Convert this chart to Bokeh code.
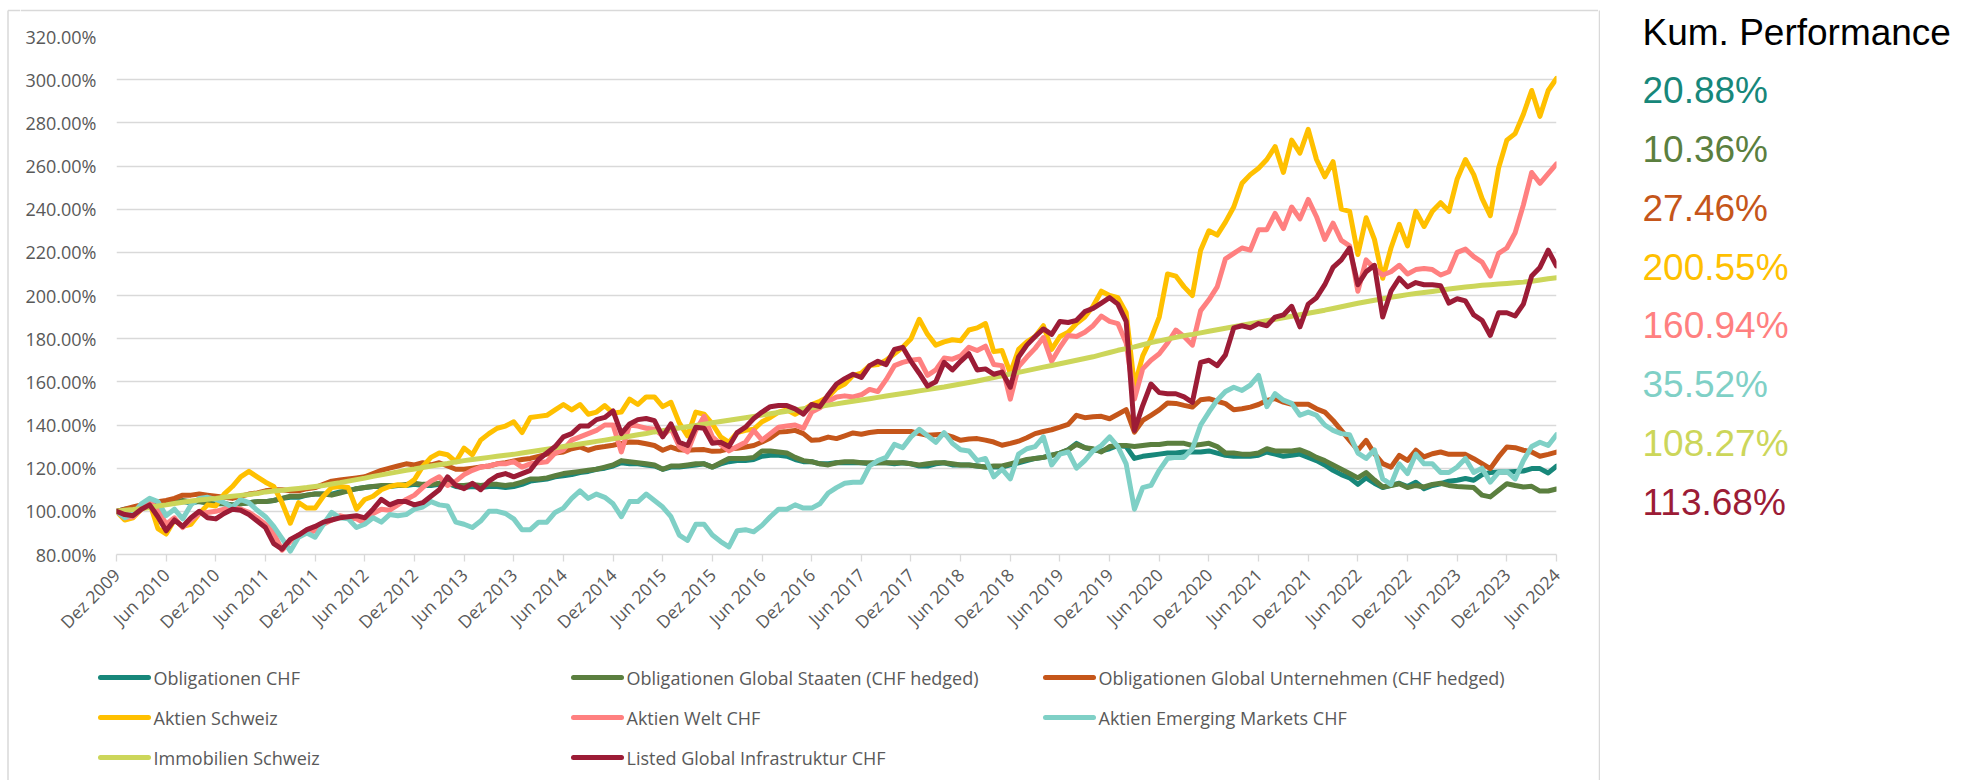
import math
from bokeh.plotting import figure
from bokeh.models import FixedTicker, PrintfTickFormatter, Range1d
from bokeh.layouts import row, column
from bokeh.core.properties import value
from bokeh.embed import file_html
from bokeh.resources import INLINE

# ---------------- data (monthly, Dez 2009 .. Jun 2024, indexed 100 = start) ----------------
tick_labels = ["Dez 2009", "Jun 2010", "Dez 2010", "Jun 2011", "Dez 2011", "Jun 2012",
               "Dez 2012", "Jun 2013", "Dez 2013", "Jun 2014", "Dez 2014", "Jun 2015",
               "Dez 2015", "Jun 2016", "Dez 2016", "Jun 2017", "Dez 2017", "Jun 2018",
               "Dez 2018", "Jun 2019", "Dez 2019", "Jun 2020", "Dez 2020", "Jun 2021",
               "Dez 2021", "Jun 2022", "Dez 2022", "Jun 2023", "Dez 2023", "Jun 2024"]

series_names = ["Obligationen CHF",
                "Obligationen Global Staaten (CHF hedged)",
                "Obligationen Global Unternehmen (CHF hedged)",
                "Aktien Schweiz",
                "Aktien Welt CHF",
                "Aktien Emerging Markets CHF",
                "Immobilien Schweiz",
                "Listed Global Infrastruktur CHF"]

kum_performance = [20.88, 10.36, 27.46, 200.55, 160.94, 35.52, 108.27, 113.68]

obligationen_chf = [100,
 101, 101.5, 102, 102.5, 103, 104, 104, 104.5, 104, 104.5, 104, 103.5,
 103.5, 103, 103.5, 104, 104.5, 104.5, 105, 106, 106.5, 106.5, 107.5, 108,
 108, 108, 109, 109.5, 110.5, 111, 111.5, 111.5, 111.5, 112, 112, 112.5,
 112, 112, 112.5, 113, 111.5, 111, 111.5, 111, 111.5, 111.5, 111, 111.5,
 112.5, 114, 114.5, 115, 116, 116.5, 117, 118, 118.5, 119.5, 120, 121,
 122.5, 122, 122, 121.5, 121, 119.5, 120.5, 120.5, 121, 121.5, 122, 120.5,
 122, 123, 123.5, 123.5, 124, 125.5, 126, 126, 125.5, 124, 123, 123,
 122, 122, 122.5, 122.5, 122.5, 122.5, 122, 122.5, 122.5, 122, 122.5, 122,
 121, 121, 122, 122.5, 121.5, 121.5, 121.5, 121, 120.5, 120.5, 120.5, 121.5,
 122.5, 123.5, 124.5, 125, 126, 127, 128.5, 131.5, 129.5, 128.5, 128, 129,
 130.5, 130, 124.5, 125.5, 126, 126.5, 127, 127, 127.5, 127.5, 127.5, 128,
 127, 126, 125.5, 125.5, 125.5, 126, 127.5, 126.5, 125.5, 126, 126.5, 125,
 123.5, 121.5, 119, 117, 115.5, 112.5, 115.5, 113, 111, 112, 113, 111.5,
 113.5, 110.5, 112, 112.8, 114, 114.4, 115.2, 114.4, 117, 118, 118.2, 118.2,
 118.5, 118.7, 119.8, 119.8, 117.8, 120.88]

obligationen_staaten = [100,
 100.5, 101, 101.5, 102.5, 103, 104, 104.5, 105, 104.5, 104.5, 104, 104,
 103.5, 103, 103.5, 104, 104.5, 104.5, 105, 106, 107, 107, 107.5, 108,
 108, 107.5, 108.5, 109.5, 110.5, 111, 111.5, 112, 112, 112, 112.5, 113,
 112.5, 112.5, 113, 113.5, 112, 112, 112.5, 112, 112.5, 112.5, 112, 112.5,
 113.5, 115, 115, 115.5, 116.5, 117.5, 118, 118.5, 119, 119.5, 120.5, 121.5,
 123.5, 123, 122.5, 122, 121.5, 119.5, 121, 121, 121.5, 122, 122, 120.5,
 122.5, 124.5, 124.5, 124.5, 125, 128, 128, 127.5, 127, 125, 123.5, 123,
 122, 121.5, 122.5, 123, 123, 122.5, 122.5, 122.5, 122.5, 122.5, 122.5, 122,
 121.5, 122, 122.5, 122.5, 122, 121.5, 121.5, 121, 120.5, 121, 121, 122,
 123, 124, 124.5, 125, 126, 127, 128.5, 131, 129.5, 129, 127.5, 130,
 130.5, 130.5, 130, 130.5, 131, 131, 131.5, 131.5, 131.5, 130.5, 131, 131.5,
 130, 127, 127, 126.5, 126.5, 127, 129, 128, 128, 128, 128.5, 127,
 125, 123.5, 121.5, 119.5, 117.5, 115.5, 118, 114.5, 111.3, 112, 112.8, 111,
 112, 111.3, 112.5, 113, 112, 111.5, 111.3, 111, 107.5, 106.7, 109.8, 112.8,
 112, 111.3, 111.6, 109.4, 109.4, 110.36]

obligationen_unternehmen = [100,
 101, 102, 103, 104, 104.5, 105, 106, 107.5, 107.5, 108, 107.5, 107,
 106.5, 106, 107, 108, 108.5, 109.5, 110, 110, 109.5, 109.5, 110.5, 111,
 112.5, 114, 114.5, 115, 115.5, 116, 117.5, 119, 120, 121, 122, 121.5,
 122.5, 121.5, 122.5, 121, 119.5, 119.5, 120, 120.5, 121, 122, 122.5, 123.3,
 124, 124.5, 125.5, 126.5, 127, 127.5, 129, 129.8, 128.3, 129.5, 130, 130.6,
 131.5, 132.1, 132, 131.3, 130.5, 128.3, 129.8, 128.5, 128.3, 128.5, 128.6, 127.8,
 128, 129, 129.2, 129.8, 130.5, 132.1, 134, 136.7, 137, 137.5, 136, 132.9,
 133.2, 134.4, 133.7, 135, 136.3, 135.7, 136.5, 137, 137, 137, 137, 137,
 136, 135.2, 135.5, 135.7, 134.5, 132.9, 133.5, 133.7, 133, 132.1, 130.6, 131.5,
 132.5, 134.1, 136, 137, 137.8, 139, 140.3, 144.5, 143.4, 143.8, 144, 142.9,
 145, 147.1, 136.7, 142.1, 144.5, 147, 150.2, 150, 149.1, 148.3, 151.7, 152.2,
 151, 149.9, 147.1, 147.5, 148.3, 149.5, 151.4, 152.2, 150.6, 149.6, 149.6, 149.6,
 147.5, 146, 142.1, 137.5, 132.9, 128.3, 132.9, 126.7, 122.1, 120.5, 125.9, 123.6,
 128.3, 125.2, 126.7, 127.5, 126.4, 126.4, 126.4, 124.4, 122.1, 119.8, 125.2, 129.8,
 129.5, 128.3, 127.5, 125.5, 126.4, 127.46]

aktien_schweiz = [100,
 96, 97, 101, 104, 92, 89.5, 96, 93, 94, 99, 103, 102.5,
 108, 111.5, 116, 118.5, 116, 113.5, 111.5, 104, 94.5, 104, 101.5, 101.5,
 107, 111, 111.5, 111, 101, 105.5, 107, 110, 111.5, 112.3, 112, 114.7,
 120.8, 125, 127, 126.2, 123, 129.3, 126.2, 133, 136, 138.5, 139.5, 141.5,
 136.5, 143.5, 144, 144.5, 147, 149.5, 147, 149.5, 145, 146, 149, 145.5,
 146, 152, 149.5, 153, 153, 148.5, 150.5, 141, 135, 146, 145, 140.5,
 134.5, 132, 136.5, 137.5, 138, 141.5, 143.5, 146, 147, 145, 147, 149.5,
 151, 153, 157, 159, 163, 164, 167.5, 168, 170, 173, 176, 180,
 189, 182, 177, 178.5, 179.5, 179, 184, 185, 187, 174, 174.5, 164,
 175, 178.5, 181, 186, 175, 181, 183, 187, 190, 195, 202, 200,
 199, 192, 158, 172, 180, 190, 210, 209, 204, 200, 221, 230,
 228, 234, 241, 252, 256, 259, 263, 269, 257, 272, 266, 277,
 263, 255, 262, 240, 239, 219, 236, 226, 208, 222, 233, 223,
 239, 232, 239, 243, 239, 254, 263, 256, 245, 237, 259, 272,
 275, 284, 295, 283, 295, 300.55]

aktien_welt = [100,
 97, 97.5, 101, 104.5, 101, 94, 97, 92.5, 96, 99, 99.5, 100,
 101, 102, 101, 99.5, 97, 94, 90, 82, 86, 89, 90, 91,
 94, 96, 98, 97, 96.5, 94.5, 99, 101, 100.5, 103, 105.5, 107.5,
 111, 114, 116, 112, 114, 117, 119, 120.5, 121, 122, 122, 123,
 120.5, 122, 122.5, 123, 127, 128.5, 133, 134.5, 136, 137.5, 140, 140,
 127.5, 140, 139.5, 138.5, 138, 135, 138.5, 130, 127.5, 137.5, 144, 134.5,
 131, 128, 130, 132, 137.5, 133, 136, 139, 139.5, 140, 138.5, 146,
 148, 151, 153, 153.5, 153, 154, 156.5, 155.5, 161, 167.5, 169, 170,
 170.5, 163, 165.5, 171, 170.5, 172, 176, 174.5, 176.5, 168, 167.5, 152,
 167, 171.5, 175.5, 180.5, 169.5, 176, 181.5, 181, 183, 186, 190.5, 188,
 187, 178, 152, 166, 170, 173, 178, 184, 181, 177, 193, 198,
 204, 217, 219.5, 222, 221, 230.5, 230.5, 238, 231, 241, 235.5, 244.5,
 236.5, 226, 233.5, 225.5, 223, 202, 216.5, 212.5, 209.5, 211, 214, 210,
 212, 212.5, 212, 209.5, 211, 220, 221.5, 218, 215.5, 209, 219.5, 222,
 229, 242, 257, 252, 256.5, 260.94]

aktien_em = [100,
 97, 99, 103.5, 106, 104.5, 98, 101, 96.5, 103, 106, 106.5, 105.5,
 104, 102, 105.5, 104, 100.5, 97.5, 93, 87.5, 81.5, 88, 90, 88,
 94, 99.5, 97, 96.5, 92.5, 94, 97, 95, 98.5, 98, 98.5, 101,
 102, 104.5, 103, 102.5, 95, 94, 92.5, 95.5, 100, 100, 99, 96.5,
 91.5, 91.5, 95, 95, 99.5, 101.5, 106, 109.5, 106, 108, 106.5, 103.5,
 97.5, 104.5, 104.5, 108, 105, 102, 97.5, 89, 86.5, 94, 94, 89,
 86, 83.5, 91, 91.5, 90.5, 93.5, 97.5, 101, 101, 103, 101.5, 101.5,
 103.5, 108.5, 111, 113, 113.5, 113.5, 121, 123.5, 125, 131, 129.5, 134.5,
 138, 135, 132, 136.5, 131.5, 128.5, 128, 123.5, 124.5, 116, 119.5, 115,
 126.5, 129, 130, 134.5, 121.5, 126.5, 127.5, 120, 123.5, 128, 130.5, 134.5,
 130, 122, 101, 111, 112, 119, 124.5, 125, 125, 129, 140, 146,
 151.5, 155.5, 157.5, 156, 158.5, 163, 148.5, 154.5, 151.5, 150, 144.5, 146,
 144.5, 140, 137.5, 136, 135.5, 127, 124.5, 128.5, 115, 112.5, 122, 117.5,
 126.5, 122, 122, 118, 118, 120.5, 124.5, 118, 120, 113.5, 118, 118.5,
 115, 123.5, 130, 132, 130.5, 135.52]

immobilien = [100,
 100.5, 100.8, 101.2, 101.8, 102.5, 103.0, 103.6, 104.2, 104.8, 105.2, 105.6, 106.0,
 106.5, 107.0, 107.4, 107.8, 108.3, 109.0, 109.4, 109.8, 110.2, 110.6, 111.0, 111.5,
 112.0, 112.7, 113.3, 114.0, 114.7, 115.4, 116.2, 116.9, 117.6, 118.3, 119.0, 119.6,
 120.3, 121.0, 121.6, 122.2, 122.9, 123.5, 124.0, 124.5, 125.0, 125.5, 126.0, 126.4,
 127.0, 127.6, 128.2, 128.8, 129.4, 130.0, 130.6, 131.2, 131.8, 132.4, 133.0, 133.6,
 134.2, 134.8, 135.5, 136.1, 136.8, 137.4, 138.0, 138.6, 139.2, 139.8, 140.4, 141.0,
 141.6, 142.2, 142.8, 143.4, 144.0, 144.6, 145.2, 145.8, 146.4, 147.0, 147.5, 148.0,
 148.6, 149.2, 149.8, 150.4, 151.0, 151.6, 152.2, 152.8, 153.4, 154.0, 154.6, 155.2,
 155.8, 156.4, 157.0, 157.6, 158.3, 159.0, 159.7, 160.4, 161.2, 162.0, 162.8, 163.6,
 164.4, 165.2, 166.0, 166.8, 167.6, 168.4, 169.2, 170.0, 170.8, 171.6, 172.6, 173.6,
 174.6, 175.4, 176.2, 177.2, 178.2, 179.0, 179.8, 180.6, 181.4, 182.0, 182.7, 183.4,
 184.1, 184.8, 185.5, 186.2, 186.9, 187.6, 188.3, 189.0, 189.7, 190.4, 191.1, 191.8,
 192.5, 193.2, 194.0, 194.8, 195.6, 196.4, 197.1, 197.8, 198.5, 199.2, 199.8, 200.4,
 200.9, 201.4, 201.9, 202.4, 203.0, 203.5, 203.9, 204.3, 204.7, 205.0, 205.3, 205.6,
 205.9, 206.2, 206.6, 207.2, 207.8, 208.27]

infrastruktur = [100,
 98.5, 98, 101, 103, 97.5, 91, 96, 93, 97, 100, 97, 96.5,
 99, 101, 100.5, 98.5, 95.5, 92.5, 85, 82.5, 87, 89, 91.5, 93,
 95, 96, 97, 97.5, 98, 97, 101, 105.5, 103, 104.5, 104.5, 103,
 104, 107, 110, 116, 112, 110.5, 113, 110, 114, 116.5, 117.5, 116,
 117.5, 119, 124, 127, 130, 134.5, 136, 139.5, 139.5, 142.5, 143.5, 146.5,
 136, 140.5, 142.5, 143, 142, 134.5, 140.5, 132, 130.5, 139, 138.5, 131.5,
 132, 130, 136.5, 139, 143, 146, 148.5, 149, 149, 147.5, 145, 149.5,
 148.5, 154, 159, 161.5, 163.5, 162, 167.5, 169.5, 168, 175, 176, 169.5,
 164, 158, 160, 169, 165.5, 169.5, 173, 165.5, 166, 163.5, 164.5, 157.5,
 171.5, 177, 181, 184.5, 182, 188, 187.5, 188.5, 192.5, 194, 196.5, 199,
 196, 188, 137.5, 149, 159, 155, 154.5, 154.5, 153, 150.5, 169, 170,
 167.5, 172.5, 185, 186, 185, 187, 186, 190, 191, 195, 185.5, 196,
 199, 205, 213, 216.5, 222, 205, 211, 214, 190, 202, 208, 204,
 206, 205, 205, 204.5, 196.5, 198.5, 197.5, 191, 188.5, 181.5, 192, 192,
 190.5, 196, 209, 213, 221, 213.68]

colors = ["#17877A", "#5B7F3F", "#C5561A", "#FFC000",
          "#FF8080", "#7FD0C6", "#CCD65A", "#9C1C36"]

all_series = [obligationen_chf, obligationen_staaten, obligationen_unternehmen,
              aktien_schweiz, aktien_welt, aktien_em, immobilien, infrastruktur]

n = len(obligationen_chf)
for s in all_series:
    assert len(s) == n, len(s)
months = list(range(n))

FONT = "Open Sans"
GRID = "#D9D9D9"
TXT = "#595959"
LW = 5

# ---------------- layout sizes (px) ----------------
STRIP_W = 20         # left strip that carries the left border
TOP_H = 20           # top strip that carries the top border
MAIN_W = 1578        # chart + legend column width (page x 20 .. 1598)
CHART_H = 634
LEG_H = 126
RIGHT_W = 370
TOTAL_H = TOP_H + CHART_H + LEG_H


def blank(w, h, xr, yr):
    f = figure(width=w, height=h, output_backend="svg", toolbar_location=None,
               x_range=xr, y_range=yr, x_axis_type=None, y_axis_type=None,
               min_border=0, min_border_left=0, min_border_right=0,
               min_border_top=0, min_border_bottom=0, frame_align=False)
    f.outline_line_color = None
    f.xgrid.visible = False
    f.ygrid.visible = False
    f.background_fill_color = "white"
    f.border_fill_color = "white"
    return f

# ---------------- main chart ----------------
p = figure(width=MAIN_W, height=CHART_H, output_backend="svg", toolbar_location=None,
           x_range=Range1d(0, n - 1), y_range=Range1d(80, 320),
           min_border_left=96, min_border_right=42,
           min_border_top=16, min_border_bottom=100, frame_align=False)
p.outline_line_color = None
p.background_fill_color = "white"
p.border_fill_color = "white"

p.xgrid.visible = False
p.ygrid.grid_line_color = GRID
p.ygrid.grid_line_width = 1.3

p.yaxis.ticker = FixedTicker(ticks=list(range(80, 321, 20)))
p.yaxis.formatter = PrintfTickFormatter(format="%.2f%%")
p.yaxis.axis_line_color = None
p.yaxis.major_tick_line_color = None
p.yaxis.major_tick_out = 0
p.yaxis.major_tick_in = 0
p.yaxis.minor_tick_line_color = None
p.yaxis.minor_tick_out = 0
p.yaxis.major_label_text_font = FONT
p.yaxis.major_label_text_font_size = "18px"
p.yaxis.major_label_text_color = TXT
p.yaxis.major_label_standoff = 20

p.xaxis.ticker = FixedTicker(ticks=list(range(0, n, 6)))
p.xaxis.major_label_overrides = {i * 6: lab for i, lab in enumerate(tick_labels)}
p.xaxis.major_label_orientation = math.pi / 4
p.xaxis.axis_line_color = GRID
p.xaxis.axis_line_width = 1.3
p.xaxis.major_tick_line_color = GRID
p.xaxis.major_tick_line_width = 1.3
p.xaxis.major_tick_out = 7
p.xaxis.major_tick_in = 0
p.xaxis.minor_tick_line_color = None
p.xaxis.major_label_text_font = FONT
p.xaxis.major_label_text_font_size = "17.5px"
p.xaxis.major_label_text_color = TXT
p.xaxis.major_label_standoff = 10

for vals, col in zip(all_series, colors):
    p.line(months, vals, line_color=col, line_width=LW,
           line_join="round", line_cap="round")

# ---------------- legend (3 columns x 3 rows, row-major) ----------------
leg_col_x = [80, 553, 1025]      # left end of the legend line, px in legend panel
leg_row_y = [23, 63, 103]        # row centre, px from the panel top
leg = blank(MAIN_W, LEG_H, Range1d(0, MAIN_W), Range1d(LEG_H, 0))
lx0 = [leg_col_x[i % 3] for i in range(len(series_names))]
ly = [leg_row_y[i // 3] for i in range(len(series_names))]
leg.segment(x0=lx0, y0=ly, x1=[x + 48 for x in lx0], y1=ly,
            line_color=colors, line_width=LW, line_cap="round")
leg.text(x=[x + 53 for x in lx0], y=ly, text=series_names,
         text_font=value(FONT), text_font_size="18px", text_color=TXT,
         text_baseline="middle", text_align="left")

# ---------------- top strip (top border) ----------------
top = blank(MAIN_W, TOP_H, Range1d(0, MAIN_W), Range1d(TOP_H, 0))
top.segment(x0=[0], y0=[10], x1=[MAIN_W], y1=[10], line_color=GRID, line_width=1.5)

# ---------------- left strip (left border) ----------------
left = blank(STRIP_W, TOTAL_H, Range1d(0, STRIP_W), Range1d(TOTAL_H, 0))
left.segment(x0=[7.5, 7.5], y0=[10, 10], x1=[7.5, STRIP_W], y1=[TOTAL_H, 10],
             line_color=GRID, line_width=1.5)

# ---------------- right block: right border + "Kum. Performance" ----------------
right = blank(RIGHT_W, TOTAL_H, Range1d(0, RIGHT_W), Range1d(TOTAL_H, 0))
right.segment(x0=[0.75], y0=[10], x1=[0.75], y1=[TOTAL_H], line_color=GRID, line_width=1.5)
right.text(x=[44], y=[31.6], text=["Kum. Performance"],
           text_font=value("Liberation Sans"), text_font_size="37px",
           text_color="black", text_baseline="middle", text_align="left")
right.text(x=[44] * len(kum_performance),
           y=[90.1 + i * 58.8 for i in range(len(kum_performance))],
           text=[f"{v:.2f}%" for v in kum_performance],
           text_font=value("Liberation Sans"), text_font_size="37px",
           text_color=colors, text_baseline="middle", text_align="left")

layout = row(left, column(top, p, leg, spacing=0), right, spacing=0)

open("out.html", "w").write(file_html(layout, INLINE))
